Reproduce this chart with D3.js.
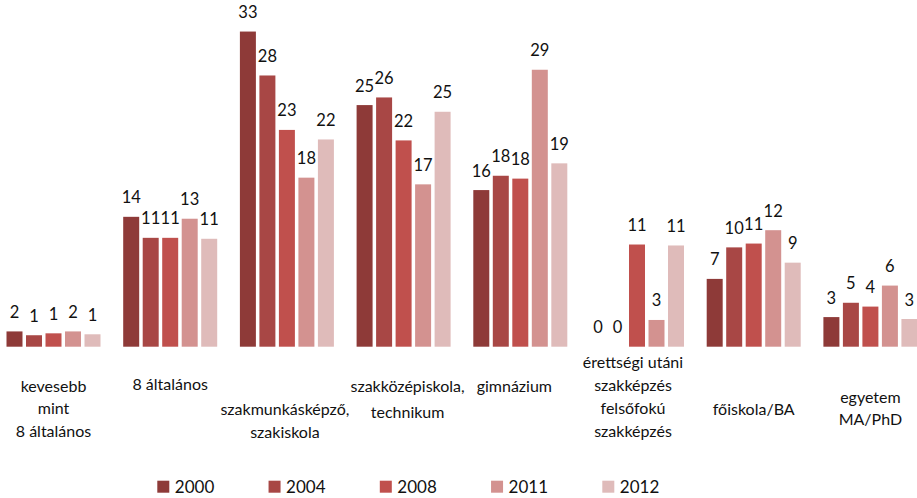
<!DOCTYPE html>
<html>
<head>
<meta charset="utf-8">
<script src="https://cdn.jsdelivr.net/npm/d3@7"></script>
<style>
  html, body { margin: 0; padding: 0; background: #fff; }
  svg { display: block; }
  text { font-family: Lato, "Open Sans", sans-serif; fill: #111; }
</style>
</head>
<body>
<svg id="chart" width="917" height="498"></svg>
<script>
// ---- data ----
const categories = [
  "kevesebb mint 8 általános",
  "8 általános",
  "szakmunkásképző, szakiskola",
  "szakközépiskola, technikum",
  "gimnázium",
  "érettségi utáni szakképzés felsőfokú szakképzés",
  "főiskola/BA",
  "egyetem MA/PhD"
];
const categoryLines = [
  ["kevesebb", "mint", "8 általános"],
  ["8 általános"],
  ["szakmunkásképző,", "szakiskola"],
  ["szakközépiskola,", "technikum"],
  ["gimnázium"],
  ["érettségi utáni", "szakképzés", "felsőfokú", "szakképzés"],
  ["főiskola/BA"],
  ["egyetem", "MA/PhD"]
];
const years = ["2000", "2004", "2008", "2011", "2012"];
const values2000 = [1.6, 13.6, 33.0, 25.3, 16.4, 0, 7.1, 3.1];
const values2004 = [1.2, 11.4, 28.4, 26.1, 17.9, 0, 10.4, 4.6];
const values2008 = [1.4, 11.4, 22.7, 21.6, 17.6, 10.7, 10.8, 4.2];
const values2011 = [1.6, 13.4, 17.7, 17.0, 29.0, 2.8, 12.2, 6.4];
const values2012 = [1.3, 11.3, 21.7, 24.6, 19.2, 10.6, 8.8, 2.9];
const seriesValues = [values2000, values2004, values2008, values2011, values2012];

// ---- style / layout ----
const colors = ["#8e3a38", "#a84745", "#c0504d", "#d39290", "#dfbbba"];
const baseline = 346.7;
const pxPerUnit = 9.55;
const labelFirstBaseline = [391.7, 390, 415, 391.7, 391.7, 368.3, 415, 403];
const labelLineGap = [22.5, 23, 23.3, 26.6, 23, 23, 23, 22];
const labelShift = [0, 0, -2, 4, -6, -4, 0, 0];

const svg = d3.select("#chart");

const x0 = d3.scaleBand()
  .domain(categories)
  .range([-4.85, 928.75])
  .paddingInner(0.1945)
  .paddingOuter(0.09725);

const x1 = d3.scaleBand()
  .domain(years)
  .range([0, x0.bandwidth()])
  .paddingInner(0.18)
  .paddingOuter(0);

const yMax = 33;
const y = d3.scaleLinear()
  .domain([0, yMax])
  .range([baseline, baseline - yMax * pxPerUnit]);

const rows = categories.map((c, i) => ({
  cat: c,
  idx: i,
  vals: years.map((yr, s) => ({ year: yr, s: s, v: seriesValues[s][i] }))
}));

const groups = svg.append("g").selectAll("g")
  .data(rows)
  .join("g")
  .attr("transform", d => `translate(${x0(d.cat)},0)`);

groups.selectAll("rect")
  .data(d => d.vals)
  .join("rect")
  .attr("x", d => x1(d.year))
  .attr("y", d => y(d.v))
  .attr("width", x1.bandwidth())
  .attr("height", d => y(0) - y(d.v))
  .attr("fill", d => colors[d.s]);

groups.selectAll("text.val")
  .data(d => d.vals)
  .join("text")
  .attr("class", "val")
  .attr("x", d => x1(d.year) + x1.bandwidth() / 2)
  .attr("y", d => y(d.v) - 13.5)
  .attr("text-anchor", "middle")
  .style("font-size", "16.5px")
  .text(d => Math.round(d.v));

// category labels
const catLabels = svg.append("g").selectAll("text")
  .data(rows)
  .join("text")
  .attr("text-anchor", "middle")
  .style("font-size", "16px")
  .attr("transform", d => `translate(${x0(d.cat) + x0.bandwidth() / 2 + labelShift[d.idx]},0)`);

catLabels.selectAll("tspan")
  .data(d => categoryLines[d.idx].map((t, k) => ({ t, k, i: d.idx })))
  .join("tspan")
  .attr("x", 0)
  .attr("y", d => labelFirstBaseline[d.i] + d.k * labelLineGap[d.i])
  .text(d => d.t);

// legend
const legend = svg.append("g").attr("transform", "translate(157.3,0)");
const legStep = 111.25;
const items = legend.selectAll("g")
  .data(years)
  .join("g")
  .attr("transform", (d, i) => `translate(${i * legStep},0)`);
items.append("rect")
  .attr("x", 0).attr("y", 480.7)
  .attr("width", 12).attr("height", 12)
  .attr("fill", (d, i) => colors[i]);
items.append("text")
  .attr("x", 17.5).attr("y", 492.5)
  .style("font-size", "17px")
  .text(d => d);
</script>
</body>
</html>
